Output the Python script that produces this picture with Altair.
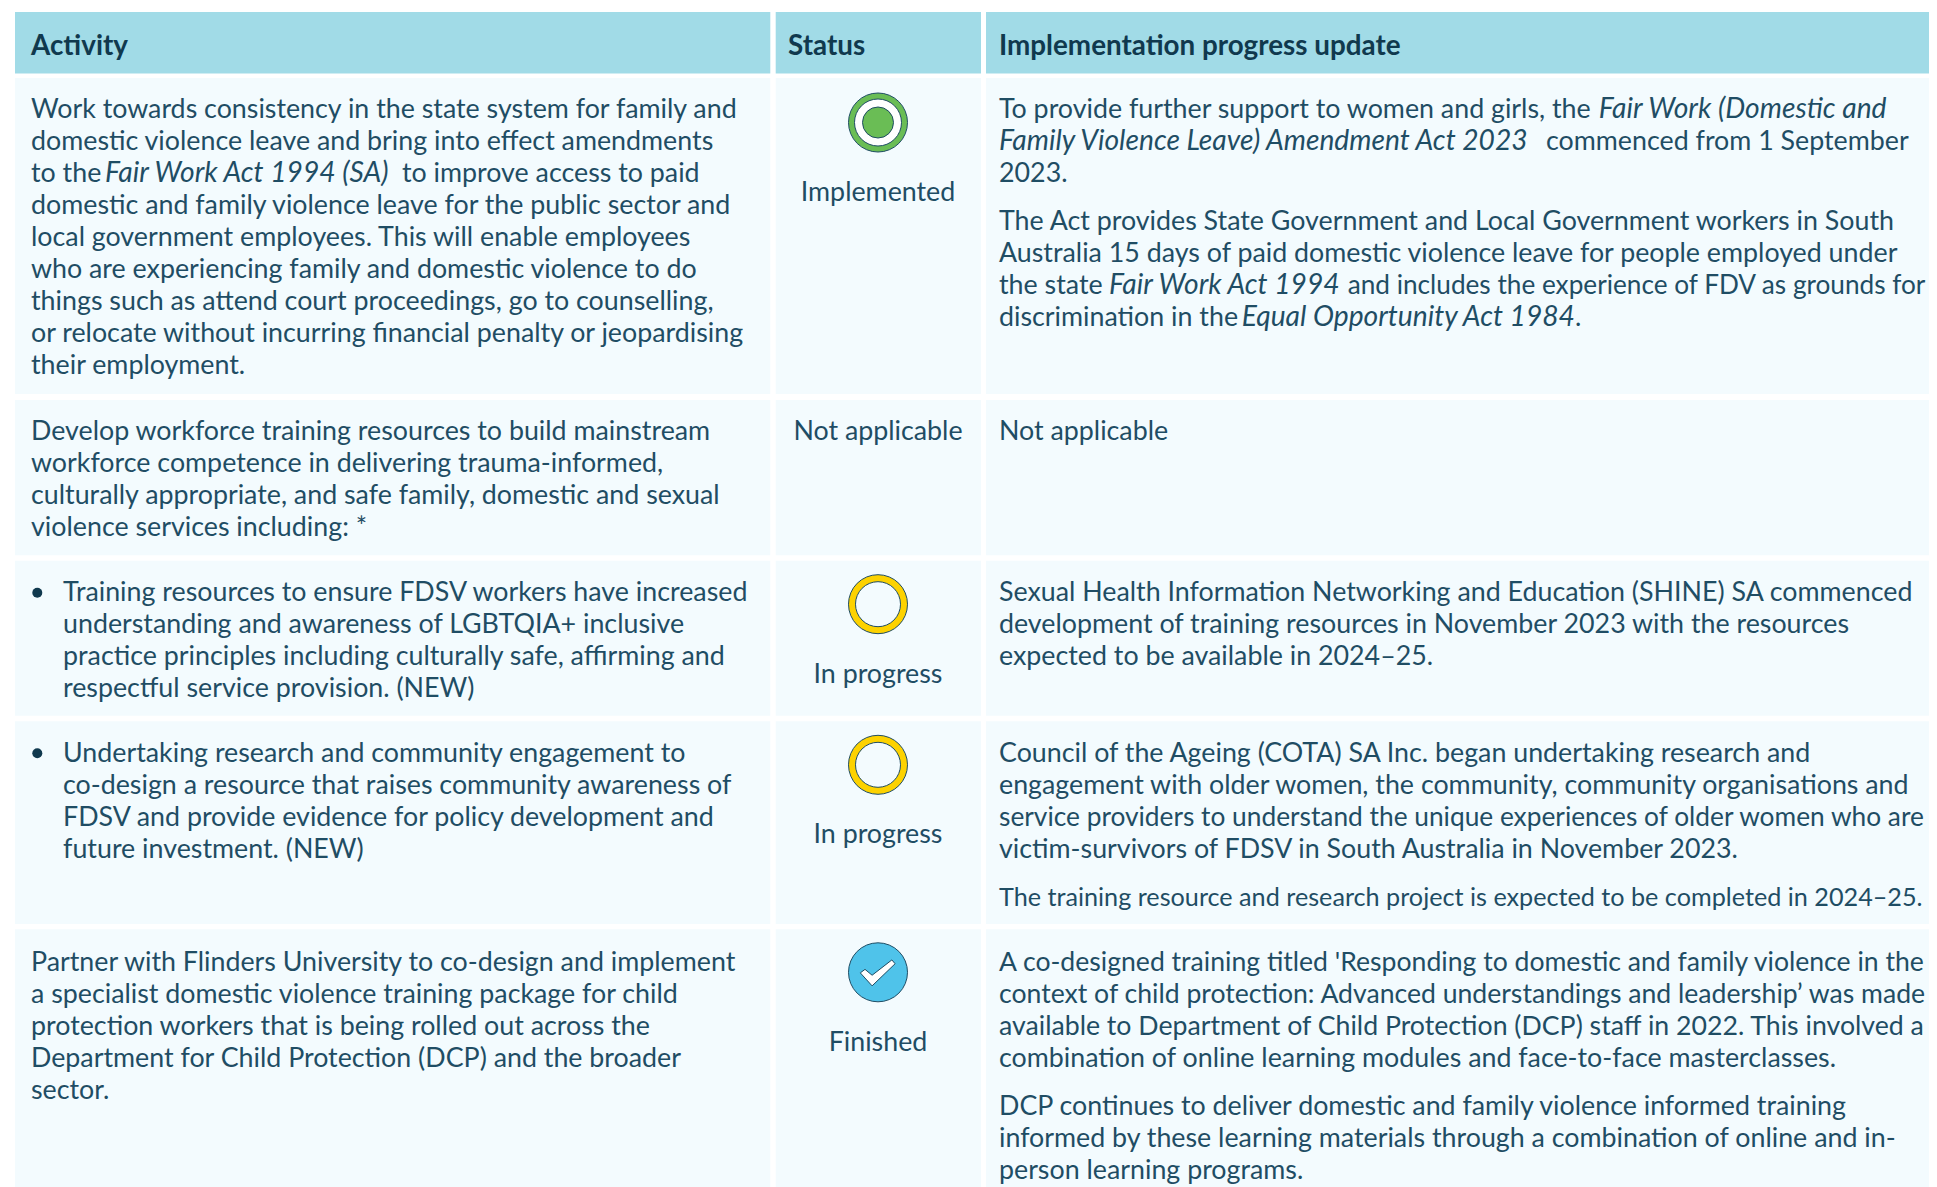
import altair as alt
import pandas as pd

FONT = "Lato"
FS = 26.8
ITALIC_FS = 28.2
HEADER_FS = 27.8
TEXT = "#1f4d64"
HEAD_TEXT = "#10394e"
HEAD_BG = "#a1dbe7"
BODY_BG = "#f3fbfe"

HEADERS = ["Activity", "Status", "Implementation progress update"]
COL_EDGES = [(15, 770.3), (775.7, 981), (986, 1937)]
HEAD_EDGE = (12, 73.5)
ROW_EDGES = [(78, 394), (400, 555.2), (560.7, 715.7), (721.3, 924), (929.3, 1187)]
FIRST_BASE = [118.3, 440, 600.5, 761.5, 970.5]
LINE = 32
PARA = 16
COL1_X = 31
BULLET_X = 63
COL3_X = 999
STATUS_X = 878

ACTIVITY = [
    [[("Work towards consistency in the state system for family and", "n", None)],
     [("domestic violence leave and bring into effect amendments", "n", None)],
     [("to the", "n", None), ("Fair Work Act 1994 (SA)", "i", 105), ("to improve access to paid", "n", 402)],
     [("domestic and family violence leave for the public sector and", "n", None)],
     [("local government employees. This will enable employees", "n", None)],
     [("who are experiencing family and domestic violence to do", "n", None)],
     [("things such as attend court proceedings, go to counselling,", "n", None)],
     [("or relocate without incurring financial penalty or jeopardising", "n", None)],
     [("their employment.", "n", None)]],
    [[("Develop workforce training resources to build mainstream", "n", None)],
     [("workforce competence in delivering trauma-informed,", "n", None)],
     [("culturally appropriate, and safe family, domestic and sexual", "n", None)],
     [("violence services including: *", "n", None)]],
    [[("Training resources to ensure FDSV workers have increased", "n", None)],
     [("understanding and awareness of LGBTQIA+ inclusive", "n", None)],
     [("practice principles including culturally safe, affirming and", "n", None)],
     [("respectful service provision. (NEW)", "n", None)]],
    [[("Undertaking research and community engagement to", "n", None)],
     [("co-design a resource that raises community awareness of", "n", None)],
     [("FDSV and provide evidence for policy development and", "n", None)],
     [("future investment. (NEW)", "n", None)]],
    [[("Partner with Flinders University to co-design and implement", "n", None)],
     [("a specialist domestic violence training package for child", "n", None)],
     [("protection workers that is being rolled out across the", "n", None)],
     [("Department for Child Protection (DCP) and the broader", "n", None)],
     [("sector.", "n", None)]],
]
ACTIVITY_BULLET = [False, False, True, True, False]

STATUS = ["Implemented", "Not applicable", "In progress", "In progress", "Finished"]
STATUS_BASE_OFFSET = [122.5, 40, 122, 122, 121.7]

UPDATE = [
    [[[("To provide further support to women and girls, the", "n", None), ("Fair Work (Domestic and", "i", 1598.7)],
      [("Family Violence Leave) Amendment Act 2023", "i", None), ("commenced from 1 September", "n", 1546)],
      [("2023.", "n", None)]],
     [[("The Act provides State Government and Local Government workers in South", "n", None)],
      [("Australia 15 days of paid domestic violence leave for people employed under", "n", None)],
      [("the state", "n", None), ("Fair Work Act 1994", "i", 1109), ("and includes the experience of FDV as grounds for", "n", 1347.7)],
      [("discrimination in the", "n", None), ("Equal Opportunity Act 1984", "i", 1241.7), (".", "n", 1575)]]],
    [[[("Not applicable", "n", None)]]],
    [[[("Sexual Health Information Networking and Education (SHINE) SA commenced", "n", None)],
      [("development of training resources in November 2023 with the resources", "n", None)],
      [("expected to be available in 2024–25.", "n", None)]]],
    [[[("Council of the Ageing (COTA) SA Inc. began undertaking research and", "n", None)],
      [("engagement with older women, the community, community organisations and", "n", None)],
      [("service providers to understand the unique experiences of older women who are", "n", None)],
      [("victim-survivors of FDSV in South Australia in November 2023.", "n", None)]],
     [[("The training resource and research project is expected to be completed in 2024–25.", "n", None)]]],
    [[[("A co-designed training titled 'Responding to domestic and family violence in the", "n", None)],
      [("context of child protection: Advanced understandings and leadership’ was made", "n", None)],
      [("available to Department of Child Protection (DCP) staff in 2022. This involved a", "n", None)],
      [("combination of online learning modules and face-to-face masterclasses.", "n", None)]],
     [[("DCP continues to deliver domestic and family violence informed training", "n", None)],
      [("informed by these learning materials through a combination of online and in-", "n", None)],
      [("person learning programs.", "n", None)]]],
]

# lines tightened so that they stay inside the picture
FIT_SIZE = {
    "and includes the experience of FDV as grounds for": 26.2,
    "service providers to understand the unique experiences of older women who are": 26.3,
    "The training resource and research project is expected to be completed in 2024–25.": 25.2,
    "A co-designed training titled 'Responding to domestic and family violence in the": 26.6,
    "context of child protection: Advanced understandings and leadership’ was made": 26.6,
    "available to Department of Child Protection (DCP) staff in 2022. This involved a": 26.7,
}

# ---- tables built from the arrays above
cells = []
for x0, x1 in COL_EDGES:
    cells.append(dict(x=x0, x2=x1, y=HEAD_EDGE[0], y2=HEAD_EDGE[1], fill=HEAD_BG))
    for y0, y1 in ROW_EDGES:
        cells.append(dict(x=x0, x2=x1, y=y0, y2=y1, fill=BODY_BG))
cells = pd.DataFrame(cells)

runs = []
def add_lines(lines, x, y):
    for i, line in enumerate(lines):
        for text, style, rx in line:
            size = FIT_SIZE.get(text, ITALIC_FS if style == "i" else FS)
            runs.append(dict(text=text, style=style, size=size,
                             x=rx if rx is not None else x, y=y + i * LINE))

for r, lines in enumerate(ACTIVITY):
    add_lines(lines, BULLET_X if ACTIVITY_BULLET[r] else COL1_X, FIRST_BASE[r])
for r, paras in enumerate(UPDATE):
    y = FIRST_BASE[r]
    for p in paras:
        add_lines(p, COL3_X, y)
        y += len(p) * LINE + PARA
runs = pd.DataFrame(runs)

status = pd.DataFrame(dict(text=STATUS, x=STATUS_X, size=FS,
                           y=[ROW_EDGES[i][0] + STATUS_BASE_OFFSET[i] for i in range(5)]))
heads = pd.DataFrame(dict(text=HEADERS, x=[31, 788, 999], y=54.5))
bullets = pd.DataFrame(dict(x=[37.3, 37.3], y=[ROW_EDGES[2][0] + 32, ROW_EDGES[3][0] + 32]))

icons = pd.DataFrame(dict(status=["Implemented", "In progress", "In progress", "Finished"],
                          y=[ROW_EDGES[0][0] + 44.5, ROW_EDGES[2][0] + 43.5,
                             ROW_EDGES[3][0] + 43.5, ROW_EDGES[4][0] + 43], x=STATUS_X))

PLOT_W = 1921
xs = alt.Scale(domain=[8, 8 + PLOT_W], range=[0, PLOT_W], nice=False, zero=False)
ys = alt.Scale(domain=[8, 1187], range=[0, 1179], nice=False, zero=False)
X = alt.X("x:Q", scale=xs, axis=None)
Y = alt.Y("y:Q", scale=ys, axis=None)

rects = alt.Chart(cells).mark_rect().encode(
    x=X, x2="x2:Q", y=Y, y2="y2:Q", fill=alt.Fill("fill:N", scale=None))

def text_layer(df, **kw):
    return alt.Chart(df).mark_text(font=FONT, color=TEXT, baseline="alphabetic", **kw).encode(
        x=X, y=Y, text="text:N", size=alt.Size("size:Q", scale=None))

normal = text_layer(runs[runs["style"] == "n"], align="left")
italic = text_layer(runs[runs["style"] == "i"], align="left", fontStyle="italic")
status_t = text_layer(status, align="center")
head_t = alt.Chart(heads).mark_text(font=FONT, fontSize=HEADER_FS, fontWeight="bold", color=HEAD_TEXT,
                                    baseline="alphabetic", align="left").encode(x=X, y=Y, text="text:N")
bullet_m = alt.Chart(bullets).mark_circle(color="#10394e", opacity=1, size=100).encode(x=X, y=Y)

def dot(df, fill, size, stroke="#1f4d64", sw=1):
    return alt.Chart(df).mark_point(filled=True, fill=fill, stroke=stroke, strokeWidth=sw, opacity=1,
                                    size=size, shape="circle").encode(x=X, y=Y)

impl = icons[icons["status"] == "Implemented"]
prog = icons[icons["status"] == "In progress"]
fin = icons[icons["status"] == "Finished"]
CHECK = "M-0.6,0.02 L-0.2,0.46 L0.58,-0.29 L0.47,-0.42 L-0.2,0.1 L-0.44,-0.1 Z"
check = alt.Chart(fin).mark_point(filled=True, fill="#ffffff", stroke="#1f4d64", strokeWidth=1, opacity=1,
                                  size=3481, shape=CHECK, strokeJoin="round").encode(x=X, y=Y)

chart = alt.layer(
    rects, normal, italic, status_t, head_t, bullet_m,
    dot(impl, "#6abd55", 3481), dot(impl, "#ffffff", 2209), dot(impl, "#6abd55", 961),
    dot(prog, "#fdd200", 3481), dot(prog, BODY_BG, 2025),
    dot(fin, "#4fc3ea", 3481), check,
).properties(width=PLOT_W, height=1179, padding=0, background="#ffffff",
             autosize=alt.AutoSizeParams(type="none")).configure_view(stroke=None)

chart.save("out.html", embed_options={"renderer": "svg", "actions": False})
